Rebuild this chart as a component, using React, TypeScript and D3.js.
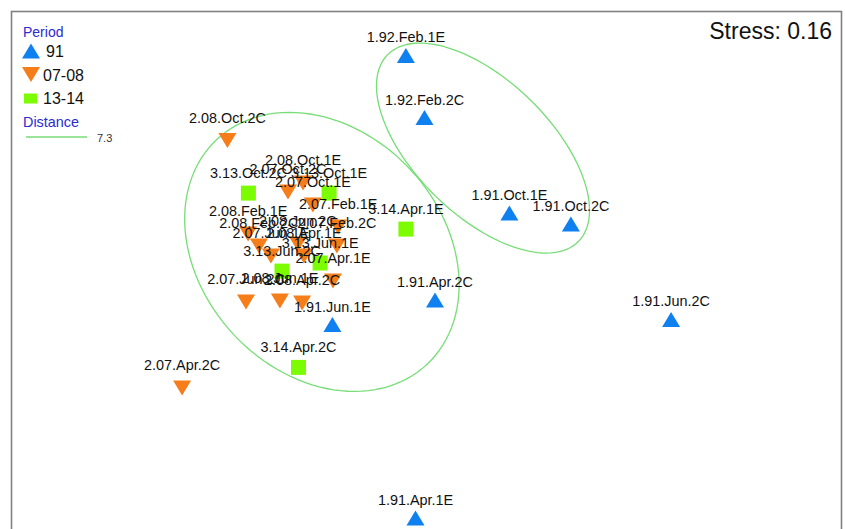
import React from "react";
import * as d3 from "d3";

// nMDS coordinates (MDS1, MDS2)
const period91Labels = ["1.92.Feb.1E", "1.92.Feb.2C", "1.91.Oct.1E", "1.91.Oct.2C", "1.91.Apr.2C", "1.91.Jun.1E", "1.91.Jun.2C", "1.91.Apr.1E"];
const period91X = [-0.067, -0.005, 0.278, 0.483, 0.030, -0.312, 0.817, -0.035];
const period91Y = [0.752, 0.545, 0.227, 0.190, -0.063, -0.145, -0.128, -0.790];

const period0708Labels = ["2.08.Oct.2C", "2.08.Oct.1E", "2.07.Oct.2C", "2.07.Oct.1E", "2.07.Feb.1E", "2.08.Feb.1E", "2.08.Feb.2C", "2.08.Jun.2C", "2.07.Feb.2C", "2.07.Jun.1E", "2.08.Apr.1E", "2.07.Apr.1E", "2.07.Jun.2C", "2.08.Jun.1E", "2.08.Apr.2C", "2.07.Apr.2C"];
const period0708X = [-0.662, -0.410, -0.460, -0.377, -0.293, -0.593, -0.557, -0.427, -0.297, -0.517, -0.407, -0.310, -0.600, -0.487, -0.413, -0.813];
const period0708Y = [0.468, 0.327, 0.297, 0.253, 0.180, 0.157, 0.117, 0.123, 0.117, 0.083, 0.083, 0.000, -0.070, -0.067, -0.073, -0.357];

const period1314Labels = ["3.13.Oct.2C", "3.13.Oct.1E", "3.14.Apr.1E", "3.13.Jun.2C", "3.13.Jun.1E", "3.14.Apr.2C"];
const period1314X = [-0.592, -0.323, -0.067, -0.480, -0.353, -0.425];
const period1314Y = [0.293, 0.293, 0.173, 0.033, 0.060, -0.288];

// cluster ellipses: centre x, centre y, semi-major, semi-minor, angle (deg, data space)
const ellipseCX = [-0.347, 0.19];
const ellipseCY = [0.097, 0.443];
const ellipseA = [0.513, 0.445];
const ellipseB = [0.403, 0.225];
const ellipseAngle = [-47, -44.3];

const legendPeriods = ["91", "07-08", "13-14"];
const distanceValue = "7.3";
const stressText = "Stress: 0.16";

const COLORS = { blue: "#0f80f0", orange: "#f57d1a", green: "#7cfc00" };
const FONT = "'Liberation Sans', Arial, sans-serif";

type Shape = "up" | "down" | "square";

function markerPath(shape: Shape, cx: number, cy: number): string {
  const p = d3.path();
  if (shape === "up") {
    p.moveTo(cx - 9, cy + 7.5);
    p.lineTo(cx + 9, cy + 7.5);
    p.lineTo(cx, cy - 7.5);
    p.closePath();
  } else if (shape === "down") {
    p.moveTo(cx - 9, cy - 7.5);
    p.lineTo(cx + 9, cy - 7.5);
    p.lineTo(cx, cy + 7.5);
    p.closePath();
  } else {
    p.rect(cx - 7.5, cy - 7.5, 15, 15);
  }
  return p.toString();
}

export default function App() {
  const W = 845;
  const H = 529;
  const x = d3.scaleLinear().domain([-1, 1]).range([126, 726]);
  const y = d3.scaleLinear().domain([-1, 1]).range([581, -19]);

  const groups: { labels: string[]; xs: number[]; ys: number[]; shape: Shape; color: string; off: number }[] = [
    { labels: period91Labels, xs: period91X, ys: period91Y, shape: "up", color: COLORS.blue, off: 13 },
    { labels: period0708Labels, xs: period0708X, ys: period0708Y, shape: "down", color: COLORS.orange, off: 18 },
    { labels: period1314Labels, xs: period1314X, ys: period1314Y, shape: "square", color: COLORS.green, off: 15 },
  ];

  const ellipsePaths = ellipseCX.map((cx, i) => {
    const phi = (ellipseAngle[i] * Math.PI) / 180;
    const pts: [number, number][] = d3.range(0, 361, 3).map((deg) => {
      const t = (deg * Math.PI) / 180;
      const dx = ellipseA[i] * Math.cos(t) * Math.cos(phi) - ellipseB[i] * Math.sin(t) * Math.sin(phi);
      const dy = ellipseA[i] * Math.cos(t) * Math.sin(phi) + ellipseB[i] * Math.sin(t) * Math.cos(phi);
      return [x(cx + dx), y(ellipseCY[i] + dy)];
    });
    return d3.line().curve(d3.curveLinearClosed)(pts) as string;
  });

  const legendShapes: Shape[] = ["up", "down", "square"];
  const legendColors = [COLORS.blue, COLORS.orange, COLORS.green];
  const legendY = d3.scalePoint<string>().domain(legendPeriods).range([51, 98]);

  return (
    <svg width={W} height={H} style={{ position: "absolute", left: 0, top: 0, background: "#fff" }} fontFamily={FONT}>
      <rect x={0} y={0} width={W} height={H} fill="#fff" />
      <rect x={11.5} y={11.5} width={830} height={560} fill="none" stroke="#808080" strokeWidth={1.6} />

      {ellipsePaths.map((d, i) => (
        <path key={"e" + i} d={d} fill="none" stroke="#77dd77" strokeWidth={1.3} />
      ))}

      {groups.map((g, gi) =>
        g.xs.map((v, i) => (
          <path key={"m" + gi + "-" + i} d={markerPath(g.shape, x(v), y(g.ys[i]))} fill={g.color} />
        ))
      )}
      {groups.map((g, gi) =>
        g.xs.map((v, i) => (
          <text key={"t" + gi + "-" + i} x={x(v)} y={y(g.ys[i]) - g.off} textAnchor="middle" fontSize={14.4} fill="#111">
            {g.labels[i]}
          </text>
        ))
      )}

      <text x={832} y={39} textAnchor="end" fontSize={23} fill="#111">{stressText}</text>

      <text x={23} y={37} fontSize={14} fill="#2b2bd0">Period</text>
      {legendPeriods.map((p, i) => {
        const cy = legendY(p) as number;
        const shape = legendShapes[i];
        const d =
          shape === "square"
            ? (() => { const q = d3.path(); q.rect(24, cy - 4.5, 13, 10); return q.toString(); })()
            : markerPath(shape, 31, cy);
        return (
          <g key={"l" + p}>
            <path d={d} fill={legendColors[i]} />
            <text x={shape === "up" ? 46 : 43} y={cy + 6} fontSize={16} fill="#111">{p}</text>
          </g>
        );
      })}
      <text x={23} y={127} fontSize={14.4} fill="#2b2bd0">Distance</text>
      <line x1={26} x2={87} y1={137} y2={137} stroke="#77dd77" strokeWidth={1.3} />
      <text x={97} y={142} fontSize={11} fill="#333">{distanceValue}</text>
    </svg>
  );
}
